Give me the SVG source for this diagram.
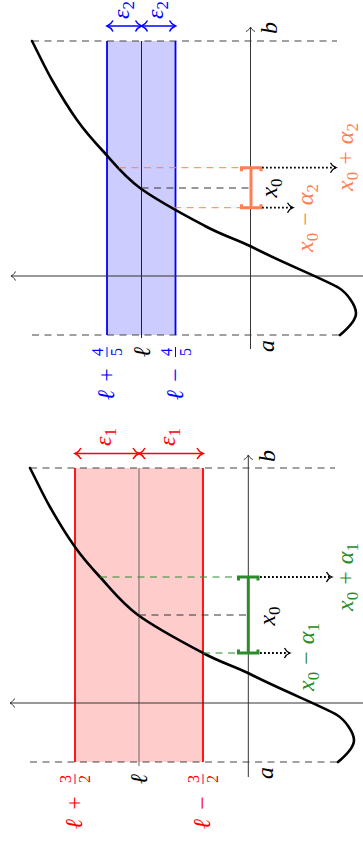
<svg xmlns="http://www.w3.org/2000/svg" xmlns:xlink="http://www.w3.org/1999/xlink" width="363" height="847" viewBox="0 0 363 847">
<style>
text{font-family:"Liberation Serif","Times New Roman",serif;font-size:24px}
.i{font-style:italic}
.s{font-size:17px}
.fr{font-size:16px}
.ax{stroke:#333;stroke-width:1;fill:none}
.dash{stroke:#444;stroke-width:1.2;stroke-dasharray:7 5.5;fill:none}
.thin{stroke-width:1;stroke-dasharray:7 5.5;fill:none}
.curve{stroke:#000;stroke-width:2.6;fill:none;stroke-linecap:round}
.dot{stroke:#000;stroke-width:1.8;stroke-dasharray:1.8 2.2;fill:none}
.red{fill:#ff0000}
.blue{fill:#0000ff}
.grn{fill:#2a8c2a}
.cor{fill:#ff7f50}
</style>
<defs>
<marker id="mAx" markerUnits="userSpaceOnUse" orient="auto-start-reverse" overflow="visible" refX="0" refY="0" markerWidth="1" markerHeight="1">
<path d="M-4.5,-4.5 C-3.5,-2 -1.2,-0.5 0,0 C-1.2,0.5 -3.5,2 -4.5,4.5" fill="none" stroke="#333" stroke-width="1" stroke-dasharray="none"/>
</marker>
<marker id="mDot" markerUnits="userSpaceOnUse" orient="auto-start-reverse" overflow="visible" refX="0" refY="0" markerWidth="1" markerHeight="1">
<path d="M-5.5,-5 C-4.2,-2.2 -1.4,-0.5 0,0 C-1.4,0.5 -4.2,2.2 -5.5,5" fill="none" stroke="#000" stroke-width="1.3" stroke-dasharray="none"/>
</marker>
<marker id="mRed" markerUnits="userSpaceOnUse" orient="auto-start-reverse" overflow="visible" refX="0" refY="0" markerWidth="1" markerHeight="1">
<path d="M-6,-5.5 C-4.5,-2.5 -1.5,-0.6 0,0 C-1.5,0.6 -4.5,2.5 -6,5.5" fill="none" stroke="#ff0000" stroke-width="1.5"/>
</marker>
<marker id="mBlue" markerUnits="userSpaceOnUse" orient="auto-start-reverse" overflow="visible" refX="0" refY="0" markerWidth="1" markerHeight="1">
<path d="M-6,-5.5 C-4.5,-2.5 -1.5,-0.6 0,0 C-1.5,0.6 -4.5,2.5 -6,5.5" fill="none" stroke="#0000ff" stroke-width="1.5"/>
</marker>
<path id="fcurve" d="M338,762 C344,757 354.2,747.8 354,740 C353.8,732.2 345,720 337,715 C325,707.5 276.3,688 248,673 C230.2,664.7 221.3,662.7 203,653 C184.7,643.3 155.2,627.7 138,615 C120.8,602.3 110.5,588.3 100,577 C89.5,565.7 83.3,558.7 75,547 C66.7,535.3 57.5,520.2 50,507 C42.5,493.8 36.7,481 30,468"/>
</defs>

<!-- Panel 1 (red, bottom) -->
<g id="panel1">
  <g id="band1">
    <rect x="75" y="468" width="128" height="294" fill="#ffcccc"/>
  </g>
  <g id="bounds1">
    <line class="dash" x1="30" y1="468" x2="335" y2="468"/>
    <line class="dash" x1="30" y1="762" x2="340" y2="762"/>
  </g>
  <g id="bandlines1">
    <line x1="139" y1="468" x2="139" y2="766" stroke="#666" stroke-width="1"/>
    <line x1="75" y1="468" x2="75" y2="762" stroke="#ff0000" stroke-width="1.8"/>
    <line x1="203" y1="468" x2="203" y2="762" stroke="#ff0000" stroke-width="1.8"/>
  </g>
  <g id="axes1">
    <line class="ax" x1="248.3" y1="777" x2="248.3" y2="455" marker-end="url(#mAx)"/>
    <line class="ax" x1="363" y1="703" x2="10" y2="703" marker-end="url(#mAx)"/>
  </g>
  <g id="curve1">
    <use xlink:href="#fcurve" class="curve"/>
  </g>
  <g id="guides1">
    <line class="thin" x1="139" y1="615" x2="248" y2="615" stroke="#333"/>
    <line class="thin" x1="100" y1="577" x2="240" y2="577" stroke="#2a8c2a"/>
    <line class="thin" x1="203" y1="653" x2="240" y2="653" stroke="#2a8c2a"/>
  </g>
  <g id="bracket1" stroke="#2a8c2a" stroke-width="3" fill="none">
    <line x1="248.3" y1="577" x2="248.3" y2="653"/>
    <path d="M238.5,580.5 V577 H258 V580.5"/>
    <path d="M238.5,649.5 V653 H258 V649.5"/>
  </g>
  <g id="dotted1">
    <line class="dot" x1="260" y1="577" x2="332" y2="577" marker-end="url(#mDot)"/>
    <line class="dot" x1="260" y1="653" x2="290" y2="653" marker-end="url(#mDot)"/>
  </g>
  <g id="eps1">
    <line x1="75" y1="453.5" x2="139" y2="453.5" stroke="#ff0000" stroke-width="1.5" marker-start="url(#mRed)" marker-end="url(#mRed)"/>
    <line x1="139" y1="453.5" x2="203" y2="453.5" stroke="#ff0000" stroke-width="1.5" marker-start="url(#mRed)" marker-end="url(#mRed)"/>
  </g>
  <g id="labels1">
    <g transform="translate(111,437) rotate(-90)" class="red"><text text-anchor="middle"><tspan class="i">ε</tspan><tspan class="s" dy="5">1</tspan></text></g>
    <g transform="translate(175,437) rotate(-90)" class="red"><text text-anchor="middle"><tspan class="i">ε</tspan><tspan class="s" dy="5">1</tspan></text></g>
    <g transform="translate(75,773) rotate(-90)" class="red">
      <text x="-51" y="7" text-anchor="middle" class="i">ℓ</text>
      <text x="-30" y="7" text-anchor="middle">+</text>
      <text x="-6" y="-4" text-anchor="middle" class="fr">3</text>
      <text x="-6" y="15" text-anchor="middle" class="fr">2</text>
      <line x1="-11" y1="0" x2="-1" y2="0" stroke="#ff0000" stroke-width="1"/>
    </g>
    <g transform="translate(139,773) rotate(-90)"><text x="-1" y="8" text-anchor="end" class="i">ℓ</text></g>
    <g transform="translate(203,773) rotate(-90)" class="red">
      <text x="-51" y="7" text-anchor="middle" class="i">ℓ</text>
      <text x="-30" y="7" text-anchor="middle">−</text>
      <text x="-6" y="-4" text-anchor="middle" class="fr">3</text>
      <text x="-6" y="15" text-anchor="middle" class="fr">2</text>
      <line x1="-11" y1="0" x2="-1" y2="0" stroke="#ff0000" stroke-width="1"/>
    </g>
    <g transform="translate(275,456) rotate(-90)"><text text-anchor="middle" class="i">b</text></g>
    <g transform="translate(273,773) rotate(-90)"><text text-anchor="middle" class="i">a</text></g>
    <g transform="translate(275,616) rotate(-90)"><text text-anchor="middle"><tspan class="i">x</tspan><tspan class="s" dy="5">0</tspan></text></g>
    <g transform="translate(353,577) rotate(-90)" class="grn"><text text-anchor="middle"><tspan class="i">x</tspan><tspan class="s" dy="5">0</tspan><tspan dx="7" dy="-5">+</tspan><tspan class="i" dx="7">α</tspan><tspan class="s" dy="5">1</tspan></text></g>
    <g transform="translate(314,657) rotate(-90)" class="grn"><text text-anchor="middle"><tspan class="i">x</tspan><tspan class="s" dy="5">0</tspan><tspan dx="7" dy="-5">−</tspan><tspan class="i" dx="7">α</tspan><tspan class="s" dy="5">1</tspan></text></g>
  </g>
</g>

<!-- Panel 2 (blue, top) -->
<g id="panel2">
  <g id="band2">
    <rect x="107" y="41" width="68.5" height="294" fill="#ccccff"/>
  </g>
  <g id="bounds2">
    <line class="dash" x1="32" y1="41" x2="337" y2="41"/>
    <line class="dash" x1="32" y1="335" x2="340" y2="335"/>
  </g>
  <g id="bandlines2">
    <line x1="141.5" y1="41" x2="141.5" y2="338" stroke="#222" stroke-width="1"/>
    <line x1="107" y1="41" x2="107" y2="335" stroke="#0000ff" stroke-width="1.8"/>
    <line x1="175.5" y1="41" x2="175.5" y2="335" stroke="#0000ff" stroke-width="1.8"/>
  </g>
  <g id="axes2">
    <line class="ax" x1="250.5" y1="349" x2="250.5" y2="27" marker-end="url(#mAx)"/>
    <line class="ax" x1="363" y1="276" x2="11" y2="276" marker-end="url(#mAx)"/>
  </g>
  <g id="curve2">
    <use xlink:href="#fcurve" class="curve" transform="translate(2,-427)"/>
  </g>
  <g id="guides2">
    <line class="thin" x1="141.5" y1="188" x2="250" y2="188" stroke="#333"/>
    <line class="thin" x1="119" y1="167.7" x2="242" y2="167.7" stroke="#ff7f50"/>
    <line class="thin" x1="174" y1="207.7" x2="242" y2="207.7" stroke="#ff7f50"/>
  </g>
  <g id="bracket2" stroke="#ff7f50" stroke-width="3" fill="none">
    <line x1="251" y1="167.7" x2="251" y2="207.7"/>
    <path d="M241.5,171.2 V167.7 H261 V171.2"/>
    <path d="M241.5,204.2 V207.7 H261 V204.2"/>
  </g>
  <g id="dotted2">
    <line class="dot" x1="262" y1="167.7" x2="336" y2="167.7" marker-end="url(#mDot)"/>
    <line class="dot" x1="262" y1="207.7" x2="293" y2="207.7" marker-end="url(#mDot)"/>
  </g>
  <g id="eps2">
    <line x1="107" y1="26" x2="141.5" y2="26" stroke="#0000ff" stroke-width="1.5" marker-start="url(#mBlue)" marker-end="url(#mBlue)"/>
    <line x1="141.5" y1="26" x2="175.5" y2="26" stroke="#0000ff" stroke-width="1.5" marker-start="url(#mBlue)" marker-end="url(#mBlue)"/>
  </g>
  <g id="labels2">
    <g transform="translate(129,10) rotate(-90)" class="blue"><text text-anchor="middle"><tspan class="i">ε</tspan><tspan class="s" dy="5">2</tspan></text></g>
    <g transform="translate(163,10) rotate(-90)" class="blue"><text text-anchor="middle"><tspan class="i">ε</tspan><tspan class="s" dy="5">2</tspan></text></g>
    <g transform="translate(107,346) rotate(-90)" class="blue">
      <text x="-49" y="7" text-anchor="middle" class="i">ℓ</text>
      <text x="-29" y="7" text-anchor="middle">+</text>
      <text x="-6" y="-4" text-anchor="middle" class="fr">4</text>
      <text x="-6" y="15" text-anchor="middle" class="fr">5</text>
      <line x1="-11" y1="0" x2="-1" y2="0" stroke="#0000ff" stroke-width="1"/>
    </g>
    <g transform="translate(141.5,346) rotate(-90)"><text x="-1" y="8" text-anchor="end" class="i">ℓ</text></g>
    <g transform="translate(175.5,346) rotate(-90)" class="blue">
      <text x="-49" y="7" text-anchor="middle" class="i">ℓ</text>
      <text x="-29" y="7" text-anchor="middle">−</text>
      <text x="-6" y="-4" text-anchor="middle" class="fr">4</text>
      <text x="-6" y="15" text-anchor="middle" class="fr">5</text>
      <line x1="-11" y1="0" x2="-1" y2="0" stroke="#0000ff" stroke-width="1"/>
    </g>
    <g transform="translate(277,28) rotate(-90)"><text text-anchor="middle" class="i">b</text></g>
    <g transform="translate(274,346) rotate(-90)"><text text-anchor="middle" class="i">a</text></g>
    <g transform="translate(277,188) rotate(-90)"><text text-anchor="middle"><tspan class="i">x</tspan><tspan class="s" dy="5">0</tspan></text></g>
    <g transform="translate(353,157) rotate(-90)" class="cor"><text text-anchor="middle"><tspan class="i">x</tspan><tspan class="s" dy="5">0</tspan><tspan dx="7" dy="-5">+</tspan><tspan class="i" dx="7">α</tspan><tspan class="s" dy="5">2</tspan></text></g>
    <g transform="translate(313,218) rotate(-90)" class="cor"><text text-anchor="middle"><tspan class="i">x</tspan><tspan class="s" dy="5">0</tspan><tspan dx="7" dy="-5">−</tspan><tspan class="i" dx="7">α</tspan><tspan class="s" dy="5">2</tspan></text></g>
  </g>
</g>
</svg>
